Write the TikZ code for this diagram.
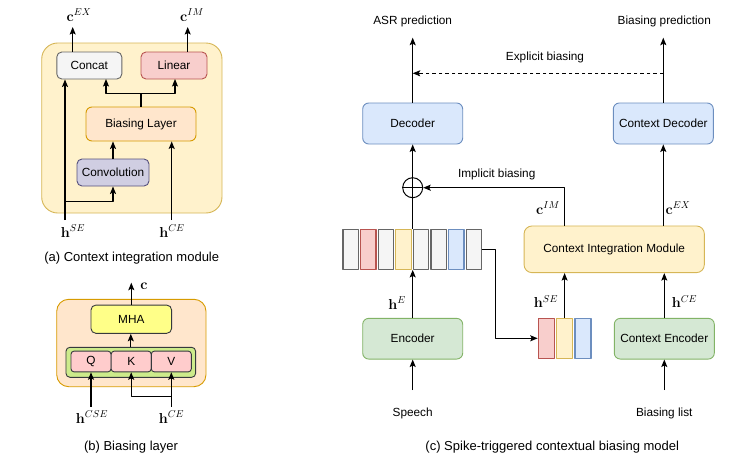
\documentclass[tikz,border=0pt]{standalone}
\usepackage[no-math]{fontspec}
\setmainfont{Liberation Sans}
\usetikzlibrary{arrows.meta}

% draw.io colours
\definecolor{grayF}{HTML}{F5F5F5}\definecolor{grayD}{HTML}{666666}
\definecolor{redF}{HTML}{F8CECC}\definecolor{redD}{HTML}{B85450}
\definecolor{orgF}{HTML}{FFE6CC}\definecolor{orgD}{HTML}{D79B00}
\definecolor{purF}{HTML}{D0CEE2}\definecolor{purD}{HTML}{56517E}
\definecolor{yelF}{HTML}{FFF2CC}\definecolor{yelD}{HTML}{D6B656}
\definecolor{bluF}{HTML}{DAE8FC}\definecolor{bluD}{HTML}{6C8EBF}
\definecolor{grnF}{HTML}{D5E8D4}\definecolor{grnD}{HTML}{82B366}
\definecolor{mhaF}{HTML}{FFFF88}\definecolor{limeF}{HTML}{CDEB8B}
\definecolor{pinkF}{HTML}{FFCCCC}\definecolor{darkD}{HTML}{36393D}

\begin{document}
\begin{tikzpicture}[x=1pt, y=-1pt, font=\fontsize{11.8}{13}\selectfont, line join=round,
	>={Stealth[length=7.5pt, width=6pt, inset=1.5pt]},
	box/.style={draw, rounded corners=6pt, line width=0.9pt, inner sep=0pt},
	cell/.style={draw, line width=1.2pt, minimum width=15.4pt, minimum height=40pt, inner sep=0pt},
	conn/.style={line width=1.1pt},
	mlabel/.style={font=\fontsize{14.5}{16}\selectfont},
	caption/.style={font=\fontsize{13}{15}\selectfont}]
	\useasboundingbox (0,0) rectangle (756,466);
	
	% (a) Context integration module
	\draw[fill=yelF, draw=yelD, line width=0.9pt, rounded corners=16pt] (41.7,43) rectangle (222,213);
	\node[box, rounded corners=5pt, fill=grayF, draw=grayD, minimum width=65pt, minimum height=27pt] (concat) at (89.3,65.5) {Concat};
	\node[box, rounded corners=5pt, fill=redF, draw=redD, minimum width=66pt, minimum height=27pt] (linear) at (174,65.5) {Linear};
	\node[box, fill=orgF, draw=orgD, minimum width=110pt, minimum height=34pt] (blayer) at (141,124) {Biasing Layer};
	\node[box, rounded corners=5pt, fill=purF, draw=purD, minimum width=72pt, minimum height=27pt] (conv) at (113,172.5) {Convolution};
	
	\coordinate (hSEin) at (65,220);
	\coordinate (hCEin) at (171.7,220);
	\coordinate (brA) at (65,201.7);
	\coordinate (split) at (141,93.3);
	\coordinate (catIn) at (106,79);
	\coordinate (linIn) at (175,79);
	\coordinate (cEXout) at (72.7,27);
	\coordinate (cIMout) at (187.7,27);
	
	\draw[conn,->] (hSEin) -- (hSEin |- concat.south);
	\draw[conn,->] (brA) -| (conv.south);
	\draw[conn,->] (conv.north) -- (conv.north |- blayer.south);
	\draw[conn,->] (hCEin) -- (hCEin |- blayer.south);
	\draw[conn] (blayer.north) -- (split);
	\draw[conn,->] (split) -| (catIn);
	\draw[conn,->] (split) -| (linIn);
	\draw[conn,->] (cEXout |- concat.north) -- (cEXout);
	\draw[conn,->] (cIMout |- linear.north) -- (cIMout);
	
	\node[mlabel] (lcEXa) at (79,15) {$\mathbf{c}^{EX}$};
	\node[mlabel] (lcIMa) at (192,15) {$\mathbf{c}^{IM}$};
	\node[mlabel] (lhSEa) at (73,231) {$\mathbf{h}^{SE}$};
	\node[mlabel] (lhCEa) at (172,231) {$\mathbf{h}^{CE}$};
	\node[caption] (capA) at (131.7,258) {(a) Context integration module};
	
	% (b) Biasing layer
	\draw[fill=orgF, draw=orgD, line width=0.9pt, rounded corners=12pt] (56.7,299.3) rectangle (206,386.7);
	\node[box, rounded corners=5pt, fill=mhaF, draw=darkD, minimum width=80.7pt, minimum height=28.3pt] (mha) at (131.3,319.2) {MHA};
	\node[box, rounded corners=4pt, fill=limeF, draw=darkD, minimum width=129.7pt, minimum height=30pt] (qkv) at (130.8,362.3) {};
	\foreach \n/\x in {Q/91, K/131.2, V/171.3}
	\node[box, rounded corners=3pt, fill=pinkF, draw=darkD, minimum width=40pt, minimum height=20.7pt] (\n) at (\x,361.5) {\n};
	
	\coordinate (cout) at (130.7,282.7);
	\coordinate (hCSEin) at (91,406.7);
	\coordinate (hCEinB) at (171.3,406.7);
	\coordinate (brB) at (171.3,396.7);
	
	\draw[conn,->] (mha.north) -- (mha.north |- cout);
	\draw[conn,->] (qkv.north) -- (qkv.north |- mha.south);
	\draw[conn,->] (hCSEin) -- (Q.south);
	\draw[conn,->] (hCEinB) -- (V.south);
	\draw[conn,->] (brB) -| (K.south);
	
	\node[mlabel] (lc) at (144,286) {$\mathbf{c}$};
	\node[mlabel] (lhCSE) at (92,417) {$\mathbf{h}^{CSE}$};
	\node[mlabel] (lhCEb) at (171.5,417) {$\mathbf{h}^{CE}$};
	\node[caption] (capB) at (131,447.3) {(b) Biasing layer};
	
	% (c) Spike-triggered contextual biasing model
	\node[box, fill=bluF, draw=bluD, minimum width=100pt, minimum height=41pt] (dec) at (412.7,123.5) {Decoder};
	\node[box, fill=bluF, draw=bluD, minimum width=100pt, minimum height=41pt] (cdec) at (663.3,123.5) {Context Decoder};
	\node[box, fill=grnF, draw=grnD, minimum width=100pt, minimum height=40.7pt] (enc) at (412.7,338.7) {Encoder};
	\node[box, fill=grnF, draw=grnD, minimum width=100pt, minimum height=40.7pt] (cenc) at (664.3,338.7) {Context Encoder};
	\node[box, rounded corners=8pt, fill=yelF, draw=yelD, minimum width=180.3pt, minimum height=46.7pt] (cim) at (614.2,249.3) {Context Integration Module};
	\node[draw, circle, line width=1pt, minimum size=20pt, inner sep=0pt] (plus) at (412.7,187.7) {};
	\draw[line width=1pt] (plus.north) -- (plus.south) (plus.west) -- (plus.east);
	
	% encoder output frames and triggered frames
	\foreach \i/\f/\d in {1/grayF/grayD, 2/redF/redD, 3/grayF/grayD, 4/yelF/yelD, 5/grayF/grayD, 6/grayF/grayD, 7/bluF/bluD, 8/grayF/grayD}
	\node[cell, fill=\f, draw=\d] (v\i) at ({343+7.7+17.6*(\i-1)},249.3) {};
	\foreach \i/\f/\d in {1/redF/redD, 2/yelF/yelD, 3/bluF/bluD}
	\node[cell, minimum width=16pt, fill=\f, draw=\d] (s\i) at ({538.3+8+18.3*(\i-1)},338.3) {};
	
	\coordinate (asrOut) at (412.7,37.7);
	\coordinate (bpOut) at (663.3,37.7);
	\coordinate (exb) at (663.3,73.3);
	\coordinate (speechIn) at (412.7,390);
	\coordinate (listIn) at (664.3,390);
	
	\draw[conn,->] (dec.north) -- (asrOut);
	\draw[conn,->] (cdec.north) -- (bpOut);
	\draw[conn,->, dash pattern=on 3.5pt off 3pt] (exb) -- (exb -| dec.north);
	\draw[conn,->] (plus.north) -- (dec.south);
	\draw[conn] (dec.south |- v1.north) -- (plus.south);
	\draw[conn,->] (enc.north) -- (enc.north |- v1.south);
	\draw[conn,->] (speechIn) -- (enc.south);
	\draw[conn,->] (v8.east) -- ++(13,0) |- (s1.west);
	\draw[conn,->] (s2.north) -- (s2.north |- cim.south);
	\draw[conn,->] (s2.north |- cim.north) |- (plus.east);
	\draw[conn,->] (cenc.north) -- (cenc.north |- cim.south);
	\draw[conn,->] (cdec.south |- cim.north) -- (cdec.south);
	\draw[conn,->] (listIn) -- (cenc.south);
	
	\node (lasr) at (412.7,21.7) {ASR prediction};
	\node (lbp) at (664.3,21.7) {Biasing prediction};
	\node (lexb) at (545,57.3) {Explicit biasing};
	\node (limb) at (496.7,174) {Implicit biasing};
	\node[mlabel] (lcIM) at (548,208) {$\mathbf{c}^{IM}$};
	\node[mlabel] (lcEX) at (678,208) {$\mathbf{c}^{EX}$};
	\node[mlabel] (lhE) at (397,303) {$\mathbf{h}^{E}$};
	\node[mlabel] (lhSE) at (546,301.5) {$\mathbf{h}^{SE}$};
	\node[mlabel] (lhCE) at (684.5,301.5) {$\mathbf{h}^{CE}$};
	\node (lspeech) at (412.7,413.3) {Speech};
	\node (llist) at (664.3,413.3) {Biasing list};
	\node[caption] (capC) at (552.3,447.3) {(c) Spike-triggered contextual biasing model};
\end{tikzpicture}
\end{document}
